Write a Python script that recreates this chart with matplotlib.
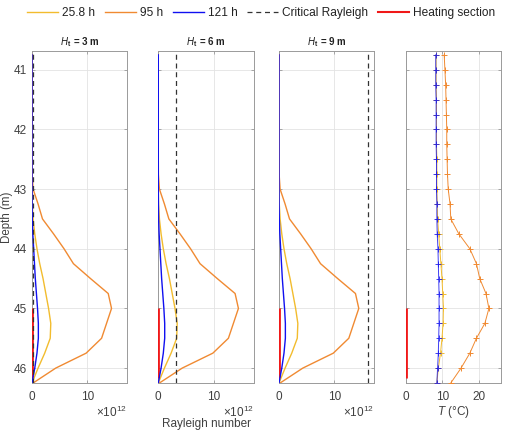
import numpy as np
import matplotlib
matplotlib.use("Agg")
import matplotlib.pyplot as plt
from matplotlib.lines import Line2D

plt.rcParams['font.family'] = ['Liberation Sans', 'DejaVu Sans']
plt.rcParams['mathtext.fontset'] = 'custom'
plt.rcParams['mathtext.rm'] = 'Liberation Sans'
plt.rcParams['mathtext.it'] = 'Liberation Sans:italic'
plt.rcParams['mathtext.bf'] = 'Liberation Sans:bold'

# ---------------- data ----------------
depth = [40.75, 41.0, 41.25, 41.5, 41.75, 42.0, 42.25, 42.5, 42.75, 43.0,
         43.25, 43.5, 43.75, 44.0, 44.25, 44.5, 44.75, 45.0, 45.25, 45.5,
         45.75, 46.0, 46.25]

# Rayleigh number (x 1e12)
ra_25h = [0, 0, 0, 0, 0, 0, 0, 0, 0, 0,
          0.05, 0.2, 0.5, 0.9, 1.4, 2.0, 2.5, 3.0, 3.4, 3.3,
          2.3, 1.1, 0.0]
ra_95h = [0, 0, 0, 0, 0, 0, 0, 0, 0.02, 0.2,
          1.1, 1.9, 3.9, 5.8, 7.5, 10.6, 13.8, 14.4, 13.5, 12.6,
          9.8, 4.3, 0.2]
ra_121h = [0, 0, 0, 0, 0, 0, 0, 0, 0, 0,
           0.02, 0.05, 0.15, 0.3, 0.45, 0.6, 0.8, 1.0, 1.15, 1.15,
           0.9, 0.5, 0.0]

heights = [3, 6, 9]
critical_ra = [0.2, 3.2, 16.1]

# Temperature (deg C)
t_25h = [8.3, 8.3, 8.3, 8.4, 8.4, 8.4, 8.4, 8.5, 8.5, 8.5,
         8.6, 8.7, 9.0, 9.3, 9.6, 9.9, 10.1, 10.3, 10.2, 9.9,
         9.5, 8.9, 8.5]
t_95h = [10.5, 10.7, 10.9, 11.0, 11.1, 11.2, 11.2, 11.3, 11.4, 11.6,
         12.1, 12.3, 14.5, 17.5, 19.3, 20.2, 21.9, 22.7, 21.6, 19.3,
         17.5, 15.1, 12.3]
t_121h = [8.2, 8.2, 8.2, 8.3, 8.3, 8.3, 8.3, 8.4, 8.4, 8.4,
          8.5, 8.5, 8.6, 8.8, 8.9, 9.0, 9.1, 9.1, 9.1, 9.0,
          8.9, 8.7, 8.5]

heating_section = [45.0, 46.17]

series_labels = ['25.8 h', '95 h', '121 h']
# --------------------------------------

c_yel = '#F2BC2E'
c_ora = '#F08A32'
c_blu = '#1010F0'
c_red = '#F01818'
c_crit = '#333333'

fig = plt.figure(figsize=(5.05, 4.32), dpi=100)
W, H = 505, 432
top_px, bot_px = 50.7, 383.0
ah = bot_px - top_px
panels_px = [(32.0, 95.0), (158.3, 95.7), (279.0, 95.3), (405.7, 95.3)]
axes = []
for lpx, wpx in panels_px:
    ax = fig.add_axes([lpx / W, (H - bot_px) / H, wpx / W, ah / H])
    axes.append(ax)

ylim = (46.25, 40.68)
tick_col = '#404040'
fs_tick = 8.5


def style(ax):
    ax.set_ylim(*ylim)
    ax.set_yticks([41, 42, 43, 44, 45, 46])
    ax.grid(True, color='#e3e3e3', lw=0.6)
    ax.set_axisbelow(True)
    for s in ax.spines.values():
        s.set_color('#9a9a9a')
        s.set_linewidth(0.7)
    ax.tick_params(direction='in', length=2.5, width=0.6, colors='#9a9a9a',
                   labelcolor=tick_col, labelsize=fs_tick, top=True, right=True)
    ax.tick_params(axis='x', pad=5.5)
    ax.tick_params(axis='y', pad=4.0)


for i, ax in enumerate(axes[:3]):
    style(ax)
    ax.plot([0, 0], heating_section, color=c_red, lw=2.0, zorder=3, solid_capstyle='butt')
    ax.plot(ra_25h, depth, color=c_yel, lw=1.0, zorder=4)
    ax.plot(ra_95h, depth, color=c_ora, lw=1.0, zorder=4)
    ax.axvline(critical_ra[i], color=c_crit, lw=0.9, ls=(0, (4, 3)), zorder=5)
    ax.plot(ra_121h, depth, color=c_blu, lw=1.0, zorder=4)
    ax.set_xlim(0, 17.2)
    ax.set_xticks([0, 10])
    ax.set_title(r'$\mathbf{\mathit{H}_{t}}$' + r' $\mathbf{= %d\ m}$' % heights[i],
                 fontsize=7, pad=4, color='#222222')
    ax.text(1.0, -(412 - bot_px) / ah, r'$\times10^{12}$', transform=ax.transAxes,
            ha='right', va='center', fontsize=fs_tick, color=tick_col)
    if i > 0:
        ax.set_yticklabels([])

fig.text(7.5 / W, 1 - 217 / H, 'Depth (m)', rotation=90, ha='center', va='center',
         fontsize=8.3, color=tick_col)
axes[1].text(0.5, -(424 - bot_px) / ah, 'Rayleigh number', transform=axes[1].transAxes,
             ha='center', va='center', fontsize=8.5, color=tick_col)

ax = axes[3]
style(ax)
ax.set_yticklabels([])
ax.plot([0, 0], heating_section, color=c_red, lw=2.0, zorder=3, solid_capstyle='butt')
ax.plot(t_25h, depth, color=c_yel, lw=0.7, marker='+', ms=5, mew=0.7, zorder=4)
ax.plot(t_95h, depth, color=c_ora, lw=0.7, marker='+', ms=5, mew=0.7, zorder=4)
ax.plot(t_121h, depth, color=c_blu, lw=0.7, marker='+', ms=5, mew=0.7, zorder=5, alpha=0.8)
ax.set_xlim(0, 26)
ax.set_xticks([0, 10, 20])
ax.text(0.5, -(412 - bot_px) / ah, r'$\mathit{T}$ (°C)', transform=ax.transAxes,
        ha='center', va='center', fontsize=8.5, color=tick_col)

handles = [Line2D([], [], color=c_yel, lw=1.0),
           Line2D([], [], color=c_ora, lw=1.0),
           Line2D([], [], color=c_blu, lw=1.0),
           Line2D([], [], color=c_crit, lw=0.9, ls=(0, (4, 3))),
           Line2D([], [], color=c_red, lw=1.5)]
labels = series_labels + ['Critical Rayleigh', 'Heating section']
fig.legend(handles, labels, loc='center', bbox_to_anchor=(0.517, 1 - 13 / H),
           ncol=5, frameon=False, fontsize=8.6, handlelength=2.6,
           handletextpad=0.35, columnspacing=0.8, labelcolor='#222222')

fig.savefig('out.png', dpi=100)
